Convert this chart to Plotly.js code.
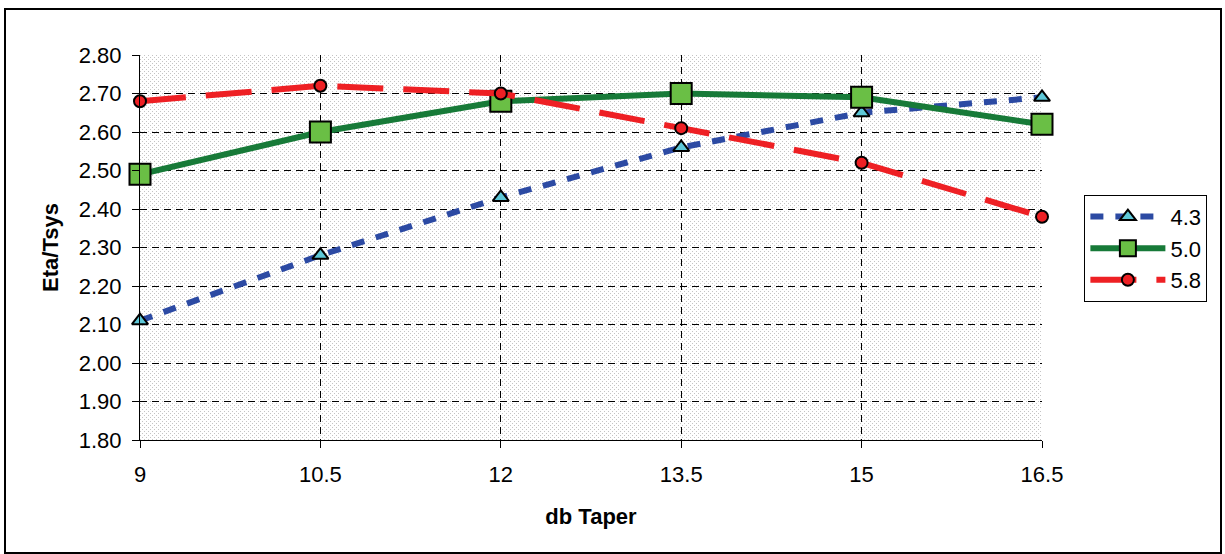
<!DOCTYPE html>
<html>
<head>
<meta charset="utf-8">
<script src="https://cdn.plot.ly/plotly-3.0.1.min.js"></script>
<style>
html,body{margin:0;padding:0;background:#fff;}
#frame{position:absolute;left:4px;top:8px;width:1218px;height:546px;box-sizing:border-box;border:2px solid #000;}
#chart{width:1214px;height:542px;}
</style>
</head>
<body>
<div id="frame"><div id="chart"></div></div>
<script>
const taper = [9, 10.5, 12, 13.5, 15, 16.5];
const s43 = [2.11, 2.28, 2.43, 2.56, 2.65, 2.69];
const s50 = [2.49, 2.60, 2.68, 2.70, 2.69, 2.62];
const s58 = [2.68, 2.72, 2.70, 2.61, 2.52, 2.38];
const seriesNames = ['4.3', '5.0', '5.8'];
const xTicks = [9, 10.5, 12, 13.5, 15, 16.5];
const yTicks = [1.8, 1.9, 2.0, 2.1, 2.2, 2.3, 2.4, 2.5, 2.6, 2.7, 2.8];

const pw = 902, ph = 385;
const svg = `<svg xmlns="http://www.w3.org/2000/svg" width="${pw}" height="${ph}"><defs><pattern id="p" width="4" height="4" patternUnits="userSpaceOnUse"><rect width="4" height="4" fill="#ffffff"/><rect x="0" y="0" width="1" height="1" fill="#c4c4c4"/><rect x="2" y="2" width="1" height="1" fill="#c4c4c4"/></pattern></defs><rect width="${pw}" height="${ph}" fill="url(#p)"/></svg>`;
const bgUri = 'data:image/svg+xml;base64,' + btoa(svg);

const traces = [
  {x: taper, y: s43, name: seriesNames[0], mode: 'lines+markers', cliponaxis: false,
   line: {color: '#2c4aa3', width: 6, dash: '13px,12px'},
   marker: {symbol: 'triangle-up', size: 14, color: '#5ec8d8', line: {color: '#000', width: 2}}},
  {x: taper, y: s50, name: seriesNames[1], mode: 'lines+markers', cliponaxis: false,
   line: {color: '#177a38', width: 6},
   marker: {symbol: 'square', size: 21, color: '#6abf45', line: {color: '#000', width: 2}}},
  {x: taper, y: s58, name: seriesNames[2], mode: 'lines+markers', cliponaxis: false,
   line: {color: '#ee2024', width: 6, dash: '46px,20px'},
   marker: {symbol: 'circle', size: 12, color: '#ee2024', line: {color: '#000', width: 2}}}
];

const ff = 'Liberation Sans, Arial, sans-serif';
const tickFont = {family: ff, size: 22, color: '#000'};
const layout = {
  width: 1214, height: 542,
  margin: {l: 134, r: 178, t: 45, b: 112},
  paper_bgcolor: 'rgba(0,0,0,0)',
  plot_bgcolor: 'rgba(0,0,0,0)',
  showlegend: true,
  images: [{source: bgUri, xref: 'paper', yref: 'paper', x: 0, y: 1, sizex: 1, sizey: 1,
            xanchor: 'left', yanchor: 'top', sizing: 'stretch', layer: 'below'}],
  xaxis: {
    range: [9, 16.5], tickvals: xTicks, ticktext: xTicks.map(String),
    showgrid: true, gridcolor: '#000', griddash: '7px,5px', gridwidth: 1,
    showline: true, linecolor: '#000', linewidth: 1, mirror: false,
    ticks: 'outside', ticklen: 7, tickcolor: '#000', tickfont: tickFont,
    ticklabelstandoff: 8,
    zeroline: false,
    title: {text: '<b>db Taper</b>', font: {family: ff, size: 22, color: '#000'}, standoff: 22}
  },
  yaxis: {
    range: [1.8, 2.8], tickvals: yTicks, ticktext: yTicks.map(v => v.toFixed(2)),
    showgrid: true, gridcolor: '#000', griddash: '7px,5px', gridwidth: 1,
    showline: true, linecolor: '#000', linewidth: 1,
    ticks: 'outside', ticklen: 7, tickcolor: '#000', tickfont: tickFont,
    ticklabelstandoff: 6,
    zeroline: false,
    title: {text: '<b>Eta/Tsys</b>', font: {family: ff, size: 22, color: '#000'}, standoff: 14}
  },
  legend: {
    x: 1.047, y: 0.637, xanchor: 'left', yanchor: 'top',
    bgcolor: '#fff', bordercolor: '#000', borderwidth: 1,
    font: {family: ff, size: 22, color: '#000'},
    itemwidth: 75, tracegroupgap: 0
  }
};

Plotly.newPlot('chart', traces, layout, {displayModeBar: false, staticPlot: true});
</script>
</body>
</html>
